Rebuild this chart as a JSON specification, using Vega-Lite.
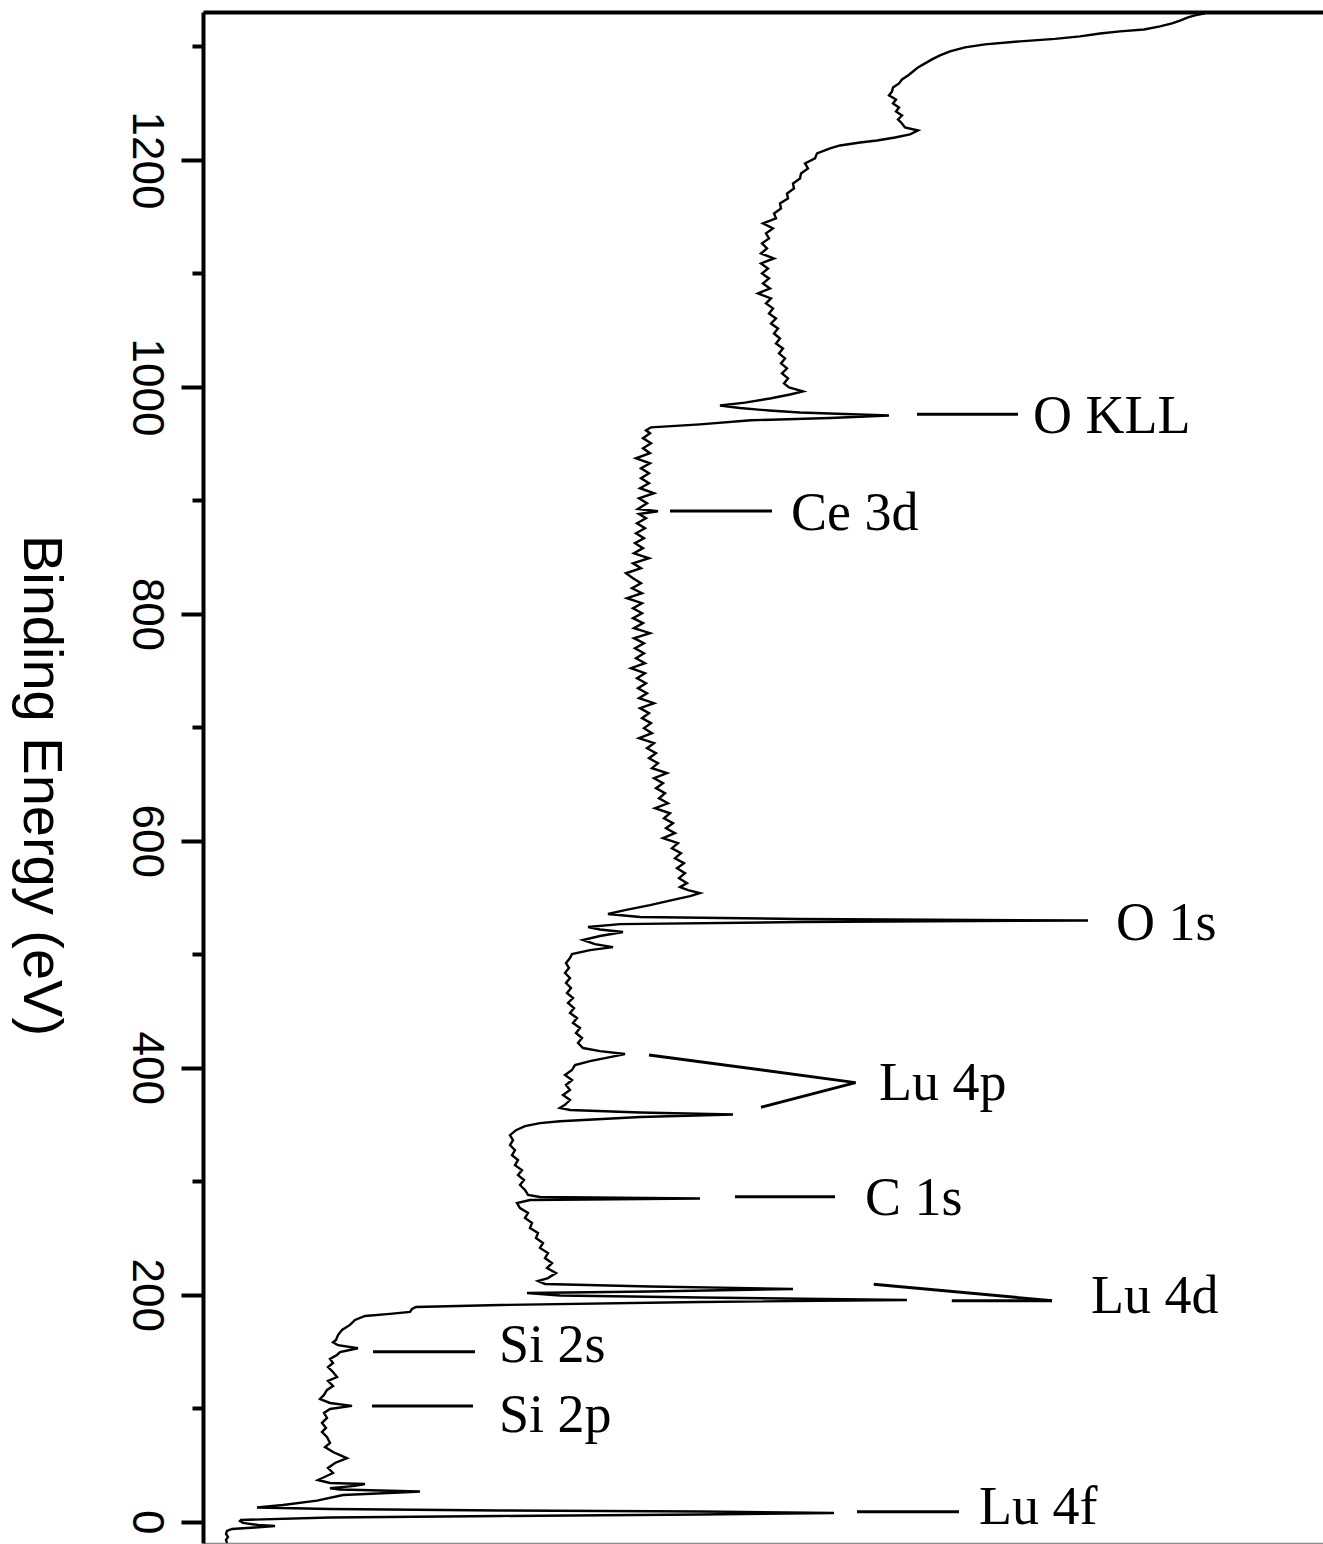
{
  "$schema": "https://vega.github.io/schema/vega-lite/v6.json",
  "width": 1125,
  "height": 1531,
  "autosize": "none",
  "padding": {"left": 203, "top": 12, "right": 0, "bottom": 1},
  "background": "white",
  "config": {"view": {"stroke": null}, "axis": {"grid": false}},
  "datasets": {
    "curve": [
      {"be": -18.8, "intensity": 24}, {"be": -16.1, "intensity": 23}, {"be": -13.5, "intensity": 25}, {"be": -10.8, "intensity": 23},
      {"be": -8.2, "intensity": 24}, {"be": -6.4, "intensity": 29}, {"be": -5.1, "intensity": 52}, {"be": -3.8, "intensity": 72},
      {"be": -2.9, "intensity": 55}, {"be": -1.1, "intensity": 40}, {"be": 0.6, "intensity": 37}, {"be": 1.5, "intensity": 38},
      {"be": 3.7, "intensity": 127}, {"be": 5.0, "intensity": 297}, {"be": 6.3, "intensity": 497}, {"be": 7.7, "intensity": 631},
      {"be": 9.0, "intensity": 497}, {"be": 9.9, "intensity": 297}, {"be": 11.2, "intensity": 127}, {"be": 12.5, "intensity": 54},
      {"be": 14.7, "intensity": 80}, {"be": 18.5, "intensity": 114}, {"be": 23.5, "intensity": 140}, {"be": 25.7, "intensity": 197},
      {"be": 26.6, "intensity": 217}, {"be": 28.4, "intensity": 137}, {"be": 29.4, "intensity": 127}, {"be": 31.5, "intensity": 152},
      {"be": 33.2, "intensity": 162}, {"be": 34.1, "intensity": 127}, {"be": 36.7, "intensity": 115},
      {"be": 42.9, "intensity": 130}, {"be": 47.3, "intensity": 125}, {"be": 51.7, "intensity": 132}, {"be": 56.0, "intensity": 144},
      {"be": 58.7, "intensity": 137}, {"be": 61.4, "intensity": 130}, {"be": 65.8, "intensity": 122}, {"be": 69.4, "intensity": 127},
      {"be": 74.6, "intensity": 124}, {"be": 79.0, "intensity": 119}, {"be": 82.6, "intensity": 123}, {"be": 87.0, "intensity": 119},
      {"be": 91.4, "intensity": 124}, {"be": 95.8, "intensity": 121}, {"be": 99.3, "intensity": 127}, {"be": 102.0, "intensity": 149},
      {"be": 104.6, "intensity": 127}, {"be": 108.1, "intensity": 117}, {"be": 111.7, "intensity": 121}, {"be": 116.1, "intensity": 124},
      {"be": 119.6, "intensity": 130}, {"be": 124.0, "intensity": 125}, {"be": 127.5, "intensity": 134}, {"be": 131.9, "intensity": 130},
      {"be": 136.3, "intensity": 125}, {"be": 139.8, "intensity": 130}, {"be": 143.4, "intensity": 127}, {"be": 146.9, "intensity": 134},
      {"be": 149.5, "intensity": 137}, {"be": 152.8, "intensity": 155}, {"be": 155.5, "intensity": 135}, {"be": 158.0, "intensity": 130},
      {"be": 160.1, "intensity": 133}, {"be": 164.5, "intensity": 135}, {"be": 169.0, "intensity": 139}, {"be": 173.4, "intensity": 147},
      {"be": 177.8, "intensity": 152}, {"be": 181.3, "intensity": 162}, {"be": 183.1, "intensity": 187}, {"be": 184.8, "intensity": 207},
      {"be": 187.4, "intensity": 209}, {"be": 189.2, "intensity": 213}, {"be": 190.9, "intensity": 297}, {"be": 193.6, "intensity": 497},
      {"be": 195.4, "intensity": 704}, {"be": 197.6, "intensity": 497}, {"be": 199.3, "intensity": 357}, {"be": 201.5, "intensity": 324},
      {"be": 202.9, "intensity": 447}, {"be": 205.1, "intensity": 590}, {"be": 207.3, "intensity": 447}, {"be": 209.5, "intensity": 342},
      {"be": 212.1, "intensity": 335},
      {"be": 214.7, "intensity": 345}, {"be": 219.1, "intensity": 353}, {"be": 223.5, "intensity": 344}, {"be": 227.9, "intensity": 349},
      {"be": 232.3, "intensity": 342}, {"be": 236.7, "intensity": 345}, {"be": 241.2, "intensity": 337}, {"be": 245.6, "intensity": 340},
      {"be": 250.0, "intensity": 333}, {"be": 254.4, "intensity": 335}, {"be": 258.8, "intensity": 327}, {"be": 263.2, "intensity": 329},
      {"be": 267.6, "intensity": 322}, {"be": 272.0, "intensity": 325}, {"be": 276.4, "intensity": 317}, {"be": 280.8, "intensity": 314},
      {"be": 283.5, "intensity": 327}, {"be": 284.8, "intensity": 497}, {"be": 286.1, "intensity": 337}, {"be": 287.9, "intensity": 325},
      {"be": 292.3, "intensity": 322}, {"be": 296.7, "intensity": 317}, {"be": 301.1, "intensity": 321}, {"be": 305.4, "intensity": 315},
      {"be": 309.8, "intensity": 319}, {"be": 314.2, "intensity": 312}, {"be": 318.6, "intensity": 315}, {"be": 323.0, "intensity": 309},
      {"be": 327.4, "intensity": 312}, {"be": 331.8, "intensity": 307}, {"be": 336.2, "intensity": 310}, {"be": 340.6, "intensity": 307},
      {"be": 345.0, "intensity": 313}, {"be": 348.6, "intensity": 322}, {"be": 351.2, "intensity": 337}, {"be": 352.9, "intensity": 357},
      {"be": 356.6, "intensity": 437}, {"be": 358.8, "intensity": 530}, {"be": 360.6, "intensity": 437}, {"be": 362.8, "intensity": 367},
      {"be": 364.6, "intensity": 357}, {"be": 367.3, "intensity": 362},
      {"be": 371.6, "intensity": 367}, {"be": 376.0, "intensity": 360}, {"be": 380.4, "intensity": 367}, {"be": 384.8, "intensity": 363},
      {"be": 389.2, "intensity": 369}, {"be": 393.6, "intensity": 362}, {"be": 398.0, "intensity": 369}, {"be": 402.4, "intensity": 372},
      {"be": 405.9, "intensity": 387}, {"be": 409.4, "intensity": 407}, {"be": 412.1, "intensity": 422}, {"be": 414.7, "intensity": 397},
      {"be": 417.4, "intensity": 380}, {"be": 421.8, "intensity": 375}, {"be": 426.2, "intensity": 379}, {"be": 430.6, "intensity": 373},
      {"be": 435.0, "intensity": 377}, {"be": 439.4, "intensity": 370}, {"be": 443.8, "intensity": 374}, {"be": 448.2, "intensity": 367},
      {"be": 452.6, "intensity": 371}, {"be": 457.1, "intensity": 365}, {"be": 461.5, "intensity": 370}, {"be": 465.9, "intensity": 364},
      {"be": 470.3, "intensity": 368}, {"be": 474.7, "intensity": 363}, {"be": 479.1, "intensity": 367}, {"be": 483.5, "intensity": 362},
      {"be": 487.9, "intensity": 366}, {"be": 492.3, "intensity": 363}, {"be": 496.7, "intensity": 367}, {"be": 500.2, "intensity": 369},
      {"be": 503.7, "intensity": 387}, {"be": 506.3, "intensity": 410}, {"be": 509.0, "intensity": 392}, {"be": 512.6, "intensity": 380},
      {"be": 516.1, "intensity": 397}, {"be": 519.6, "intensity": 420}, {"be": 521.9, "intensity": 397}, {"be": 524.0, "intensity": 385},
      {"be": 526.6, "intensity": 417}, {"be": 528.4, "intensity": 597}, {"be": 529.8, "intensity": 885}, {"be": 531.1, "intensity": 597},
      {"be": 532.9, "intensity": 437}, {"be": 535.5, "intensity": 405},
      {"be": 538.9, "intensity": 422}, {"be": 543.3, "intensity": 447}, {"be": 547.7, "intensity": 469}, {"be": 551.2, "intensity": 487},
      {"be": 553.9, "intensity": 497}, {"be": 556.6, "intensity": 485}, {"be": 559.2, "intensity": 477}, {"be": 562.7, "intensity": 484},
      {"be": 567.1, "intensity": 476}, {"be": 571.5, "intensity": 482}, {"be": 575.9, "intensity": 474}, {"be": 580.3, "intensity": 481},
      {"be": 584.7, "intensity": 472}, {"be": 589.1, "intensity": 478}, {"be": 593.5, "intensity": 469}, {"be": 597.9, "intensity": 475},
      {"be": 602.3, "intensity": 460}, {"be": 606.7, "intensity": 472}, {"be": 611.1, "intensity": 463}, {"be": 615.5, "intensity": 470},
      {"be": 619.9, "intensity": 461}, {"be": 624.3, "intensity": 467}, {"be": 628.7, "intensity": 452}, {"be": 633.1, "intensity": 465},
      {"be": 637.5, "intensity": 456}, {"be": 641.9, "intensity": 462}, {"be": 646.4, "intensity": 453}, {"be": 650.8, "intensity": 460},
      {"be": 655.2, "intensity": 451}, {"be": 659.6, "intensity": 464}, {"be": 664.0, "intensity": 449}, {"be": 668.4, "intensity": 455},
      {"be": 672.8, "intensity": 446}, {"be": 677.2, "intensity": 453}, {"be": 681.6, "intensity": 444}, {"be": 686.0, "intensity": 451},
      {"be": 690.4, "intensity": 436}, {"be": 694.8, "intensity": 449}, {"be": 699.3, "intensity": 441}, {"be": 703.7, "intensity": 448},
      {"be": 708.1, "intensity": 439}, {"be": 712.5, "intensity": 446}, {"be": 716.9, "intensity": 437}, {"be": 721.3, "intensity": 451},
      {"be": 725.7, "intensity": 436}, {"be": 730.1, "intensity": 444}, {"be": 734.5, "intensity": 435}, {"be": 738.9, "intensity": 443},
      {"be": 743.3, "intensity": 434}, {"be": 747.7, "intensity": 442}, {"be": 752.1, "intensity": 428}, {"be": 756.5, "intensity": 442},
      {"be": 760.9, "intensity": 433}, {"be": 765.3, "intensity": 441}, {"be": 769.7, "intensity": 432}, {"be": 774.1, "intensity": 441},
      {"be": 778.6, "intensity": 431}, {"be": 783.0, "intensity": 447}, {"be": 787.4, "intensity": 431}, {"be": 791.8, "intensity": 440},
      {"be": 796.2, "intensity": 430}, {"be": 800.6, "intensity": 439}, {"be": 805.0, "intensity": 430}, {"be": 809.4, "intensity": 439},
      {"be": 813.8, "intensity": 424}, {"be": 818.2, "intensity": 439}, {"be": 822.6, "intensity": 429}, {"be": 827.0, "intensity": 438},
      {"be": 831.4, "intensity": 430}, {"be": 835.8, "intensity": 423}, {"be": 840.2, "intensity": 438}, {"be": 844.6, "intensity": 430},
      {"be": 849.0, "intensity": 446}, {"be": 853.4, "intensity": 431}, {"be": 857.9, "intensity": 440}, {"be": 862.3, "intensity": 432},
      {"be": 866.7, "intensity": 441}, {"be": 871.1, "intensity": 433}, {"be": 875.5, "intensity": 442}, {"be": 879.9, "intensity": 434},
      {"be": 884.3, "intensity": 443}, {"be": 888.0, "intensity": 436}, {"be": 890.4, "intensity": 455}, {"be": 892.5, "intensity": 435},
      {"be": 897.5, "intensity": 444}, {"be": 901.9, "intensity": 436}, {"be": 906.3, "intensity": 451}, {"be": 910.7, "intensity": 437},
      {"be": 915.1, "intensity": 446}, {"be": 919.5, "intensity": 438}, {"be": 923.9, "intensity": 446}, {"be": 928.3, "intensity": 438},
      {"be": 932.7, "intensity": 447}, {"be": 937.1, "intensity": 433}, {"be": 941.6, "intensity": 447}, {"be": 946.0, "intensity": 440},
      {"be": 950.4, "intensity": 448}, {"be": 954.8, "intensity": 440}, {"be": 959.2, "intensity": 447}, {"be": 961.8, "intensity": 443},
      {"be": 964.4, "intensity": 448}, {"be": 967.0, "intensity": 497}, {"be": 970.6, "intensity": 548}, {"be": 972.6, "intensity": 627},
      {"be": 974.8, "intensity": 686}, {"be": 977.4, "intensity": 597}, {"be": 979.2, "intensity": 566}, {"be": 981.4, "intensity": 537},
      {"be": 983.6, "intensity": 517}, {"be": 986.2, "intensity": 542}, {"be": 989.8, "intensity": 567}, {"be": 993.3, "intensity": 587},
      {"be": 996.0, "intensity": 600}, {"be": 999.6, "intensity": 586}, {"be": 1003.1, "intensity": 581}, {"be": 1007.5, "intensity": 585},
      {"be": 1011.9, "intensity": 579}, {"be": 1016.3, "intensity": 584}, {"be": 1020.7, "intensity": 578}, {"be": 1025.1, "intensity": 582},
      {"be": 1029.5, "intensity": 576}, {"be": 1033.9, "intensity": 580}, {"be": 1038.3, "intensity": 573}, {"be": 1042.7, "intensity": 577},
      {"be": 1047.1, "intensity": 571}, {"be": 1051.5, "intensity": 575}, {"be": 1055.9, "intensity": 568}, {"be": 1060.3, "intensity": 573},
      {"be": 1064.7, "intensity": 566}, {"be": 1069.2, "intensity": 570}, {"be": 1073.6, "intensity": 563}, {"be": 1078.0, "intensity": 568},
      {"be": 1082.4, "intensity": 555}, {"be": 1086.8, "intensity": 567}, {"be": 1091.2, "intensity": 560}, {"be": 1095.6, "intensity": 566},
      {"be": 1100.0, "intensity": 559}, {"be": 1104.4, "intensity": 565}, {"be": 1108.8, "intensity": 558}, {"be": 1113.2, "intensity": 571},
      {"be": 1117.6, "intensity": 558}, {"be": 1122.0, "intensity": 564}, {"be": 1126.5, "intensity": 559}, {"be": 1130.9, "intensity": 566},
      {"be": 1135.3, "intensity": 563}, {"be": 1139.7, "intensity": 570}, {"be": 1144.1, "intensity": 560}, {"be": 1148.5, "intensity": 573},
      {"be": 1152.9, "intensity": 571}, {"be": 1157.3, "intensity": 578}, {"be": 1161.7, "intensity": 577}, {"be": 1166.1, "intensity": 585},
      {"be": 1170.5, "intensity": 584}, {"be": 1174.9, "intensity": 591}, {"be": 1179.3, "intensity": 590}, {"be": 1183.7, "intensity": 597},
      {"be": 1188.1, "intensity": 598}, {"be": 1192.6, "intensity": 605}, {"be": 1197.0, "intensity": 602}, {"be": 1201.4, "intensity": 612},
      {"be": 1205.8, "intensity": 614}, {"be": 1210.2, "intensity": 627}, {"be": 1212.8, "intensity": 637}, {"be": 1215.4, "intensity": 657},
      {"be": 1217.2, "intensity": 674}, {"be": 1219.8, "intensity": 692}, {"be": 1222.5, "intensity": 707}, {"be": 1226.0, "intensity": 715},
      {"be": 1228.6, "intensity": 702}, {"be": 1232.2, "intensity": 699}, {"be": 1235.7, "intensity": 695}, {"be": 1239.2, "intensity": 699},
      {"be": 1242.8, "intensity": 693}, {"be": 1246.3, "intensity": 696}, {"be": 1249.8, "intensity": 690}, {"be": 1253.3, "intensity": 693},
      {"be": 1256.9, "intensity": 686}, {"be": 1260.4, "intensity": 689}, {"be": 1263.9, "intensity": 690}, {"be": 1267.5, "intensity": 696},
      {"be": 1271.0, "intensity": 699}, {"be": 1274.5, "intensity": 705}, {"be": 1278.0, "intensity": 710}, {"be": 1281.6, "intensity": 715},
      {"be": 1285.1, "intensity": 722}, {"be": 1288.6, "intensity": 729}, {"be": 1292.1, "intensity": 737}, {"be": 1295.7, "intensity": 747},
      {"be": 1299.2, "intensity": 762}, {"be": 1301.9, "intensity": 782}, {"be": 1304.5, "intensity": 817}, {"be": 1306.7, "intensity": 852},
      {"be": 1308.9, "intensity": 877}, {"be": 1311.5, "intensity": 897}, {"be": 1313.3, "intensity": 917}, {"be": 1315.0, "intensity": 941},
      {"be": 1317.7, "intensity": 957}, {"be": 1320.3, "intensity": 969}, {"be": 1322.9, "intensity": 977}, {"be": 1325.7, "intensity": 985},
      {"be": 1327.4, "intensity": 992}, {"be": 1329.2, "intensity": 1002}
    ],
    "leaders": [
      {"peak": "O KLL", "x1": 714, "x2": 815, "y1": 975.9, "y2": 975.9},
      {"peak": "Ce 3d", "x1": 467, "x2": 569, "y1": 890.6, "y2": 890.6},
      {"peak": "Lu 4p", "x1": 446, "x2": 652.6, "y1": 411.3, "y2": 386.9},
      {"peak": "Lu 4p", "x1": 558, "x2": 652.6, "y1": 365.2, "y2": 386.9},
      {"peak": "C 1s", "x1": 532, "x2": 632, "y1": 286.4, "y2": 286.4},
      {"peak": "Lu 4d", "x1": 670.7, "x2": 849, "y1": 209.2, "y2": 194.7},
      {"peak": "Lu 4d", "x1": 748.8, "x2": 849, "y1": 194.7, "y2": 194.7},
      {"peak": "Si 2s", "x1": 170, "x2": 272, "y1": 149.8, "y2": 149.8},
      {"peak": "Si 2p", "x1": 169, "x2": 270, "y1": 102.0, "y2": 102.0},
      {"peak": "Lu 4f", "x1": 654, "x2": 756, "y1": 8.8, "y2": 8.8}
    ],
    "labels": [
      {"label": "O KLL", "be": 959.4, "intensity": 830},
      {"label": "Ce 3d", "be": 873.9, "intensity": 588},
      {"label": "O 1s", "be": 512.6, "intensity": 913},
      {"label": "Lu 4p", "be": 371.6, "intensity": 676},
      {"label": "C 1s", "be": 270.3, "intensity": 662},
      {"label": "Lu 4d", "be": 183.9, "intensity": 888},
      {"label": "Si 2s", "be": 140.8, "intensity": 296},
      {"label": "Si 2p", "be": 79.0, "intensity": 296},
      {"label": "Lu 4f", "be": -2.0, "intensity": 776}
    ]
  },
  "resolve": {"scale": {"x": "shared", "y": "shared"}, "axis": {"x": "independent", "y": "independent"}},
  "layer": [
    {
      "data": {"name": "curve"},
      "mark": {"type": "line", "color": "black", "strokeWidth": 2.4, "clip": true},
      "encoding": {
        "x": {"field": "intensity", "type": "quantitative",
              "scale": {"domain": [0, 1125], "nice": false, "zero": false},
              "axis": {"orient": "bottom", "domain": true, "domainColor": "#8c8c8c", "domainWidth": 1.5, "ticks": false, "labels": false, "grid": false, "title": null}},
        "y": {"field": "be", "type": "quantitative",
              "scale": {"domain": [-18.8, 1330.4], "nice": false, "zero": false},
              "axis": {"orient": "left", "values": [0, 200, 400, 600, 800, 1000, 1200], "format": "d",
                       "domain": true, "domainColor": "black", "domainWidth": 4,
                       "ticks": true, "tickColor": "black", "tickWidth": 4, "tickSize": 22,
                       "labels": true, "labelFont": "Liberation Sans", "labelFontSize": 44, "labelColor": "black",
                       "labelAngle": 90, "labelAlign": "center", "labelBaseline": "middle", "labelPadding": 36,
                       "labelOverlap": false, "labelFlush": false, "grid": false,
                       "title": "Binding Energy (eV)", "titleFont": "Liberation Sans", "titleFontSize": 56,
                       "titleFontWeight": "normal", "titleColor": "black", "titleAngle": 90,
                       "titleAlign": "center", "titleBaseline": "middle", "titleX": -163, "titleY": 773}},
        "order": {"field": "be", "type": "quantitative"}
      }
    },
    {
      "data": {"name": "leaders"},
      "mark": {"type": "rule", "color": "black", "strokeWidth": 3},
      "encoding": {
        "x": {"field": "x1", "type": "quantitative",
              "scale": {"domain": [0, 1125], "nice": false, "zero": false},
              "axis": {"orient": "top", "domain": true, "domainColor": "black", "domainWidth": 4, "ticks": false, "labels": false, "grid": false, "title": null}},
        "x2": {"field": "x2"},
        "y": {"field": "y1", "type": "quantitative",
              "scale": {"domain": [-18.8, 1330.4], "nice": false, "zero": false},
              "axis": {"orient": "left", "values": [100, 300, 500, 700, 900, 1100, 1300],
                       "domain": false, "ticks": true, "tickColor": "black", "tickWidth": 4, "tickSize": 11,
                       "labels": false, "grid": false, "title": null}},
        "y2": {"field": "y2"}
      }
    },
    {
      "data": {"name": "labels"},
      "mark": {"type": "text", "align": "left", "baseline": "alphabetic", "font": "Liberation Serif", "fontSize": 54, "color": "black"},
      "encoding": {
        "x": {"field": "intensity", "type": "quantitative", "scale": {"domain": [0, 1125], "nice": false, "zero": false}, "axis": null},
        "y": {"field": "be", "type": "quantitative", "scale": {"domain": [-18.8, 1330.4], "nice": false, "zero": false}, "axis": null},
        "text": {"field": "label"}
      }
    }
  ]
}
